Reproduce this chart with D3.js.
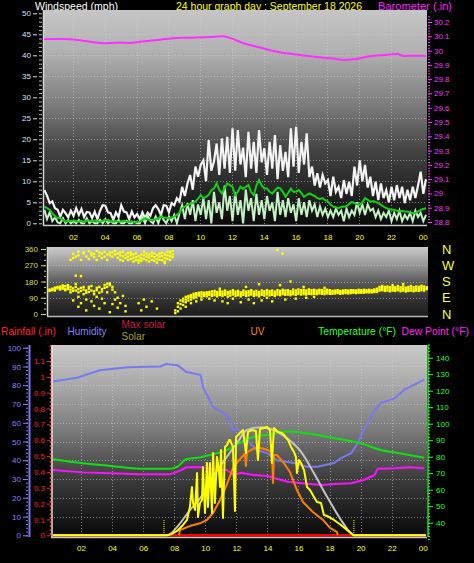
<!DOCTYPE html>
<html><head><meta charset="utf-8">
<script src="https://cdn.jsdelivr.net/npm/d3@7"></script>
<style>body{margin:0;background:#000;}svg{display:block;}text{font-family:"Liberation Sans",Arial,sans-serif;}</style>
</head><body>
<script>
// ---------------- DATA ----------------
const hourTicks = [2,4,6,8,10,12,14,16,18,20,22,24];
const windTicks = [0,5,10,15,20,25,30,35,40,45,50];
const baroTicks = [28.8,28.9,29,29.1,29.2,29.3,29.4,29.5,29.6,29.7,29.8,29.9,30,30.1,30.2];
const dirTicks = [0,90,180,270,360];
const dirLabels = ["N","E","S","W","N"];
const humTicks = [0,10,20,30,40,50,60,70,80,90,100];
const rainTicks = [0,0.1,0.2,0.3,0.4,0.5,0.6,0.7,0.8,0.9,1,1.1];
const tempTicks = [40,50,60,70,80,90,100,110,120,130,140];

// wind samples every 10 minutes starting 00:12
const windStart = 0.2, windStep = 1/6;
const windGust = [7.9,6.6,4.8,5.2,3.6,3.2, 1.6,3.2,2.4,1.4,3.0,1.8, 3.6,2.0,3.4,1.5,2.7,2.6, 1.2,2.8,1.0,3.0,4.3,4.2,
 2.6,2.4,0.8,2.6,1.5,4.3, 2.8,2.6,1.0,2.8,1.4,2.2, 1.0,2.6,1.2,2.5,1.8,3.6, 4.3,3.4,2.0,4.3,4.2,2.6,
 4.8,4.3,6.0,5.2,8.7,6.5, 9.5,11.5,8.0,13.5,11.1,13.9, 15.0,10.0,19.8,12.5,14.7,19.0, 11.5,20.2,13.0,20.6,12.0,22.6,
 12.5,22.2,14.0,18.0,11.0,21.8, 13.0,19.4,12.0,22.2,14.5,17.9, 11.5,19.4,13.0,21.0,10.5,18.6, 12.5,17.0,11.0,22.6,13.5,23.0,
 12.0,19.4,14.0,21.4,11.0,13.5, 9.0,11.9,8.5,11.5,9.5,10.3, 6.5,11.1,7.5,8.7,6.0,10.3, 7.0,9.9,6.5,13.5,9.0,15.0,
 10.0,13.9,8.5,11.1,6.5,9.9, 5.5,9.5,6.0,7.9,5.0,8.7, 5.5,9.1,6.0,8.7,4.8,8.0, 5.5,8.7,6.0,9.0,12.3,7.0,10.5];
const windAvg = [4.0,3.6,3.2,2.4,1.6,1.3, 1.2,0.8,0.4,0.6,0.5,0.7, 0.5,0.4,0.6,0.3,0.7,0.6, 0.4,0.7,0.5,0.3,0.6,0.8,
 0.8,0.5,0.4,0.6,0.3,0.5, 0.6,0.4,0.3,0.5,0.2,0.3, 0.4,0.8,1.2,0.9,0.8,0.8, 1.0,1.2,1.6,1.4,1.3,1.2,
 1.4,1.6,2.0,2.6,3.6,4.0, 4.4,4.6,4.8,5.2,5.8,6.7, 6.0,6.3,6.8,7.9,8.3,9.5, 8.0,7.1,8.3,9.5,9.1,8.7,
 6.7,7.5,8.7,8.2,8.7,9.1, 7.5,6.7,9.0,10.3,9.0,8.3, 8.3,7.5,7.1,7.8,8.5,8.3, 7.5,6.3,7.2,8.3,7.5,7.5,
 7.9,7.2,6.3,6.8,7.1,6.8, 6.5,6.0,5.8,6.0,5.5,5.2, 4.4,4.0,3.8,3.6,3.9,4.0, 4.0,4.6,5.1,4.8,4.5,4.4,
 5.0,6.0,5.6,5.1,5.3,5.1, 4.8,4.4,4.0,3.6,3.4,3.2, 3.2,3.0,2.8,2.9,2.8,2.8, 2.6,2.4,2.5,2.8,3.2,3.4,3.6];
const windSpeed = [3.2,1.0,2.6,0.5,1.5,0.2, 0.0,1.2,0.0,0.8,0.0,0.5, 0.0,0.8,0.0,0.0,1.2,0.0, 0.5,0.0,0.0,0.8,0.0,1.0,
 0.0,0.5,0.0,0.0,0.8,0.0, 0.0,0.6,0.0,0.0,0.4,0.0, 0.0,1.5,0.0,1.8,0.5,0.0, 1.6,0.0,2.0,0.8,0.0,1.6,
 0.5,2.0,0.0,2.4,4.3,1.0, 4.8,2.0,5.5,0.5,4.5,2.0, 6.0,1.0,5.5,0.0,7.5,2.5, 5.0,1.0,9.0,3.0,6.5,0.5,
 7.5,2.0,5.5,0.0,8.0,3.0, 6.0,0.5,7.0,2.0,5.5,1.0, 6.5,3.0,5.0,0.5,7.5,2.0, 5.5,1.5,6.0,2.5,4.5,0.5,
 6.0,2.0,5.0,1.5,5.5,3.0, 4.5,1.5,4.0,2.0,3.5,1.5, 3.0,1.5,3.5,2.0,3.0,0.5, 3.5,1.5,3.0,2.0,5.0,2.5,
 4.5,2.0,4.5,3.0,3.5,1.5, 3.0,1.0,2.5,1.5,3.0,0.5, 2.5,1.0,3.0,0.5,2.0,1.0, 2.5,0.5,3.0,1.5,2.5,0.5,2.0];

const baroTimes = [0.18,1.37,2.44,3.26,3.89,4.77,5.58,6.21,7.28,8.29,9.17,10.62,11.43,12.06,12.75,13.82,14.83,15.90,17.16,18.23,19.04,19.67,20.49,21.56,22.38,22.82,23.89,24.2];
const baroValues = [30.081,30.081,30.072,30.058,30.051,30.055,30.053,30.062,30.074,30.086,30.090,30.095,30.100,30.081,30.051,30.020,29.992,29.974,29.957,29.946,29.934,29.939,29.957,29.969,29.976,29.962,29.964,29.962];

// wind direction observations, every 10 minutes from 00:12 (several readings per slot)
const dirStart = 0.2, dirStep = 1/6;
const windDir = [
 [128,135],[132,140],[138,146,130],[142,150],[145,152,136],[150,158,140],
 [140,155,132],[148,138,160],[135,150,120,300],[142,128,333,310,75],[150,130,318,212,166],[138,120,345,325,95,40],
 [145,128,300,60,210],[150,135,335,340,110],[130,118,318,80,20],[140,122,348,305,150],[155,130,325,338,70],[125,110,315,332,45],
 [145,132,300,350,95],[150,118,322,340,30],[138,125,335,310,85],[160,145,345,318,60],[168,150,330,300,120],[170,160,340,325,10],
 [150,135,318,342,55],[120,350,330,80],[90,335,312,35],[60,340,325,300],[100,320,295,345],[45,330,310,15],
 [338,318,300],[325,305,340],[310,290,330],[335,315,298],[320,300,285,60],[330,310,295,20],
 [325,305,345,80],[318,298,335,40],[330,312,290],[340,322,300,70],[315,295,335],[325,305,285,30],
 [335,318,300],[320,298,340],[330,310,290,282],[345,325,305],[338,320,300,345],[330,315,350],
 [20,5],[40,15,60],[55,30,75],[70,50,85],[80,65,95,40],[90,75,100],
 [95,80,105,60],[100,88,112],[105,92,115,70],[102,110,118],[108,96,120,80],[112,100,118],
 [110,98,120],[115,105,122,85],[112,100,125],[118,104,128,75],[110,98,122],[115,105,126,140],
 [112,100,124,70],[118,106,130],[110,96,122,60],[114,102,125],[120,108,132,85],[112,100,124],
 [116,104,128],[110,98,120,65],[118,106,130],[112,100,124,150],[115,103,126,80],[120,108,132],
 [112,100,124,60],[116,104,128],[110,98,122,165],[118,106,130,75],[114,102,126],[120,108,132,90],
 [115,103,127],[118,106,130,70],[112,100,124],[120,108,132,355],[116,104,128,160],[122,110,134,335],
 [118,106,130,80],[120,108,132],[115,104,126,180],[122,110,135],[118,106,130,85],[124,112,136],
 [120,108,132],[122,110,134,150],[118,108,130,90],[124,112,136],[120,110,132],[122,112,134,95],
 [120,110,130],[124,114,134],[122,112,132],[120,110,130,145],[124,114,134],[122,112,132],
 [120,112,128],[122,114,130],[124,116,132],[120,112,128],[122,114,130],[124,116,132],
 [122,114,130],[124,116,132],[125,118,132],[124,116,130],[126,118,134],[124,118,132],
 [126,118,134],[125,120,132],[127,120,134],[126,120,132],[128,122,136],[130,122,140],
 [140,130,150],[145,132,155],[138,128,150],[142,130,152],[136,126,148],[140,130,150,160],
 [138,128,148],[142,132,155],[136,126,148],[140,130,152,165],[135,125,146],[138,128,150],
 [142,130,155],[136,126,148],[140,130,152],[138,128,150],[145,132,156],[140,130,152],[138,148]];

const humTimes = [0.19,1.74,3.2,5.0,7.1,7.5,8.2,8.8,9.7,9.85,10.5,11.4,11.8,12.1,12.7,13.3,14.0,14.6,15.7,16.5,17.2,18.3,18.7,19.4,19.8,20.2,20.9,21.3,22.2,22.8,23.4,24.1];
const humValues = [82,84,88,89.6,90,91.3,90.7,87,85.4,79,68.5,64,56,57,50.8,45.4,43.8,40,38.5,36.6,36.5,38.5,41,43.8,49,56,66.7,70.5,73,77.5,80,83];
const tempTimes = [0.19,2.1,3.9,5.8,7.7,8.2,8.8,9.7,10.5,11.4,12.2,13.1,14.0,15.3,16.5,18.3,20.0,21.3,22.6,24.1];
const tempValues = [78.4,76,74.4,72.7,72.7,73.9,78.6,79.6,81.5,84,88.3,92.1,93.2,95.2,94.2,91.2,88.1,84.1,82,79.4];
const dewTimes = [0.19,2.1,3.9,5.8,7.7,8.2,8.8,9.7,10.5,11.4,11.8,12.3,13.1,14.0,15.3,16.2,17.5,18.3,19.4,20.2,20.9,21.1,22.2,23.2,24.1];
const dewValues = [71.9,70.5,69.9,69.3,69.3,70.9,73.6,73.8,72.4,71.9,68.9,70.3,68.9,68.3,64.8,63.9,62.8,63.5,63.9,65.9,68.9,72.7,73,73.6,73];
const rainTimes = [0.19,24.2];
const rainValues = [0,0];
const maxSolarTimes = [0.19,7.53,8.37,9.01,9.66,10.50,11.40,12.04,12.68,13.59,14.42,15.26,16.16,17.0,17.84,18.74,19.38,19.57,24.2];
const maxSolarValues = [0,0,88,186,272,431,578,679,775,795,775,714,615,456,284,113,15,0,0];
const solarTimes = [0.19,7.53,7.86,8.18,8.50,8.82,9.01,9.14,9.21,9.34,9.47,9.53,9.66,9.79,9.85,9.98,10.11,10.17,10.30,10.43,10.50,10.62,10.75,10.88,10.95,11.01,11.14,11.27,11.40,11.53,11.59,11.78,11.91,11.98,12.23,12.43,12.62,12.75,13.01,13.26,13.39,13.52,13.78,13.97,14.17,14.29,14.42,14.68,14.94,15.07,15.33,15.52,15.71,15.84,15.90,16.03,16.16,16.36,16.55,16.74,17.0,17.19,17.45,17.64,17.84,18.09,18.29,18.74,19.12,19.45,19.57,24.2];
const solarValues = [0,0,10,32,68,113,208,355,238,186,458,135,238,260,502,164,532,208,532,164,605,238,576,480,355,628,127,650,664,701,701,650,179,723,753,775,605,760,775,767,554,782,789,797,775,532,789,760,753,738,701,650,613,576,458,554,532,480,355,333,282,245,238,149,142,127,113,76,39,10,0,0];
const uvTimes = [8.3,8.37,9.01,9.66,10.11,10.50,10.95,11.40,11.78,12.23,12.55,12.62,12.68,13.33,13.97,14.30,14.36,14.42,14.62,15.07,15.45,15.90,16.29,16.93,17.58,18.03,18.48,18.53];
const uvValues = [0,0.39,0.68,0.88,1.13,1.64,2.6,3.77,4.95,5.6,6.0,5.1,6.1,6.5,6.3,6.1,3.85,5.9,5.9,5.3,4.66,3.33,2.45,1.71,1.13,0.54,0.24,0];
const sunTimes = [7.34, 19.57];

// ---------------- CHART ----------------
const W = 474, H = 563;
const svg = d3.select("body").append("svg").attr("width", W).attr("height", H).style("background", "#000");
const defs = svg.append("defs");
function grad(id, stops) {
  const g = defs.append("linearGradient").attr("id", id).attr("x1", 0).attr("y1", 0).attr("x2", 0).attr("y2", 1);
  stops.forEach(([o, c]) => g.append("stop").attr("offset", o).attr("stop-color", c));
}
grad("gTop", [[0, "#c6c6c6"], [0.2, "#b0b0b0"], [0.45, "#7a7a7a"], [0.65, "#444"], [0.85, "#222"], [1, "#0a0a0a"]]);
grad("gMid", [[0, "#cacaca"], [0.25, "#9a9a9a"], [0.5, "#5c5c5c"], [0.75, "#333"], [1, "#1c1c1c"]]);
grad("gBot", [[0, "#cacaca"], [0.25, "#a2a2a2"], [0.45, "#7a7a7a"], [0.65, "#464646"], [0.82, "#262626"], [1, "#080808"]]);

const P = {
  top: {x0: 43, x1: 427, y0: 10, y1: 225},
  mid: {x0: 47, x1: 428, y0: 247, y1: 316},
  bot: {x0: 51, x1: 427, y0: 345, y1: 537}
};
Object.entries(P).forEach(([k, p]) => {
  defs.append("clipPath").attr("id", "clip" + k).append("rect")
    .attr("x", p.x0).attr("y", p.y0).attr("width", p.x1 - p.x0).attr("height", p.y1 - p.y0);
});

// scales
const xTop = d3.scaleLinear().domain([0, 24]).range([41.2, 422.8]);
const yWind = d3.scaleLinear().domain([0, 50]).range([223.3, 13.3]);
const yBaro = d3.scaleLinear().domain([28.8, 30.2]).range([222, 22]);
const xMid = d3.scaleLinear().domain([0.1, 24.25]).range([48, 427.5]);
const yDir = d3.scaleLinear().domain([0, 360]).range([314, 249]);
const xBot = d3.scaleLinear().domain([0, 24]).range([50, 422.7]);
const yHum = d3.scaleLinear().domain([0, 100]).range([535.3, 347.7]);
const yRain = d3.scaleLinear().domain([0, 1.1]).range([535.3, 361]);
const yTemp = d3.scaleLinear().domain([40, 140]).range([522.7, 357.7]);
const ySolar = d3.scaleLinear().domain([0, 1400]).range([535.3, 345]);
const yUV = d3.scaleLinear().domain([0, 14]).range([535.3, 345]);

function panelBg(p, gid) {
  svg.append("rect").attr("x", p.x0).attr("y", p.y0).attr("width", p.x1 - p.x0).attr("height", p.y1 - p.y0)
    .attr("fill", `url(#${gid})`);
}
function text(x, y, s, color, size, anchor, len, baseline) {
  const t = svg.append("text").attr("x", x).attr("y", y).text(s).attr("fill", color)
    .attr("font-size", size).attr("text-anchor", anchor || "start");
  if (len) t.attr("textLength", len).attr("lengthAdjust", "spacingAndGlyphs");
  if (baseline) t.attr("dominant-baseline", baseline);
  return t;
}
const gridStyle = s => s.attr("stroke", "#d0d0d0").attr("stroke-opacity", 0.55).attr("stroke-width", 1).attr("stroke-dasharray", "1,2");
function hGrid(p, scale, vals) {
  vals.forEach(v => gridStyle(svg.append("line").attr("x1", p.x0).attr("x2", p.x1).attr("y1", Math.round(scale(v)) + 0.5).attr("y2", Math.round(scale(v)) + 0.5)));
}
function vGrid(p, scale, vals) {
  vals.forEach(v => gridStyle(svg.append("line").attr("y1", p.y0).attr("y2", p.y1).attr("x1", Math.round(scale(v)) + 0.5).attr("x2", Math.round(scale(v)) + 0.5)));
}
function styleAxis(g, color, fs) {
  g.select(".domain").remove();
  g.selectAll("line").attr("stroke", color);
  g.selectAll("text").attr("fill", color).attr("font-size", fs || 8).attr("font-family", "Liberation Sans, Arial, sans-serif");
}
const numFmt = d => String(+d.toFixed(1));
const hourFmt = d => String(d % 24).padStart(2, "0");

// ---------- titles ----------
text(35, 9.5, "Windspeed (mph)", "#ffffff", 10.6, "start", 83);
text(176, 9.5, "24 hour graph day : September 18 2026", "#ffff00", 10.5, "start", 186);
text(378, 9.5, "Barometer (.in)", "#ff20ff", 10.8, "start", 74);

// ---------- TOP PANEL ----------
const pt = P.top;
panelBg(pt, "gTop");
hGrid(pt, yWind, windTicks.slice(1, -1));
vGrid(pt, xTop, hourTicks.slice(0, -1));
const gTop = svg.append("g").attr("clip-path", "url(#cliptop)");
const windT = i => windStart + i * windStep;
const lineWind = d3.line().x((d, i) => xTop(windT(i))).y(d => yWind(d));
gTop.append("path").datum(windGust).attr("d", lineWind).attr("fill", "none").attr("stroke", "#f4f4f4").attr("stroke-width", 2.2);
gTop.append("path").datum(windSpeed).attr("d", lineWind).attr("fill", "none").attr("stroke", "#c4f2c4").attr("stroke-width", 2);
gTop.append("path").datum(windAvg).attr("d", lineWind).attr("fill", "none").attr("stroke", "#10d010").attr("stroke-width", 2);
gTop.append("path").datum(baroTimes.map((t, i) => [t, baroValues[i]]))
  .attr("d", d3.line().x(d => xTop(d[0])).y(d => yBaro(d[1])).curve(d3.curveMonotoneX))
  .attr("fill", "none").attr("stroke", "#ff30ff").attr("stroke-width", 2);
// frame
svg.append("line").attr("x1", 43.5).attr("x2", 43.5).attr("y1", pt.y0).attr("y2", pt.y1 + 1).attr("stroke", "#d8d8d8").attr("stroke-width", 1.5);
svg.append("line").attr("x1", pt.x0).attr("x2", pt.x1).attr("y1", 225.5).attr("y2", 225.5).attr("stroke", "#c8c8c8").attr("stroke-width", 1.5);
// axes
styleAxis(svg.append("g").attr("transform", "translate(37,0)").call(d3.axisLeft(yWind).tickValues(windTicks).tickSize(4).tickPadding(2)), "#d0e0ff");
styleAxis(svg.append("g").attr("transform", "translate(42,0)").call(d3.axisLeft(yWind).tickValues(d3.range(0, 51, 1)).tickSize(3).tickFormat("")), "#b8b8b8");
styleAxis(svg.append("g").attr("transform", "translate(428,0)").call(d3.axisRight(yBaro).tickValues(baroTicks).tickSize(4).tickPadding(2).tickFormat(numFmt)), "#ff30ff");
styleAxis(svg.append("g").attr("transform", "translate(428,0)").call(d3.axisRight(yBaro).tickValues(d3.range(0, 73).map(i => 28.8 + i * 0.02)).tickSize(2).tickFormat("")), "#ff30ff");
styleAxis(svg.append("g").attr("transform", "translate(0,226)").call(d3.axisBottom(xTop).tickValues(hourTicks).tickSize(0).tickPadding(8).tickFormat(hourFmt)), "#ffff00");

// ---------- MIDDLE PANEL ----------
const pm = P.mid;
panelBg(pm, "gMid");
hGrid(pm, yDir, [90, 180, 270]);
const gMid = svg.append("g").attr("clip-path", "url(#clipmid)");
const dirPts = [];
windDir.forEach((degs, i) => degs.forEach(d => dirPts.push([dirStart + i * dirStep, d])));
gMid.selectAll("rect.dir").data(dirPts).enter().append("rect").attr("class", "dir")
  .attr("x", d => xMid(d[0]) - 1.2).attr("y", d => yDir(d[1]) - 1.2).attr("width", 2.4).attr("height", 2.4).attr("fill", "#ffff00");
svg.append("line").attr("x1", 47.5).attr("x2", 47.5).attr("y1", pm.y0).attr("y2", pm.y1).attr("stroke", "#d8d8d8").attr("stroke-width", 1.5);
svg.append("line").attr("x1", pm.x0).attr("x2", pm.x1).attr("y1", 316.5).attr("y2", 316.5).attr("stroke", "#b8b8b8").attr("stroke-width", 1.5);
styleAxis(svg.append("g").attr("transform", "translate(45,0)").call(d3.axisLeft(yDir).tickValues(dirTicks).tickSize(4).tickPadding(3)), "#dcdc3c");
styleAxis(svg.append("g").attr("transform", "translate(46,0)").call(d3.axisLeft(yDir).tickValues(d3.range(0, 361, 30)).tickSize(2).tickFormat("")), "#dcdc3c");
dirTicks.forEach((v, i) => text(442, yDir(v), dirLabels[i], "#ffff30", 13, "start", null, "central"));

// ---------- legend ----------
text(1, 335, "Rainfall (.in)", "#ff2020", 10.3, "start", 55);
text(67.5, 335, "Humidity", "#8080ff", 10.5, "start", 39);
text(121.5, 327.5, "Max solar", "#c8184a", 10.5, "start", 44);
text(121.5, 340, "Solar", "#a4a410", 10.5, "start", 23.5);
text(250.5, 335, "UV", "#ff8010", 10.5, "start", 14);
text(318, 335, "Temperature (°F)", "#20ff20", 10.2, "start", 78);
text(401.5, 335, "Dew Point (°F)", "#ff20ff", 10.2, "start", 67.5);

// ---------- BOTTOM PANEL ----------
const pb = P.bot;
panelBg(pb, "gBot");
hGrid(pb, yHum, humTicks.slice(1, -1));
vGrid(pb, xBot, hourTicks.slice(0, -1));
const gBot = svg.append("g").attr("clip-path", "url(#clipbot)");
function series(times, vals, yS, color, w, curve) {
  gBot.append("path").datum(times.map((t, i) => [t, vals[i]]))
    .attr("d", d3.line().x(d => xBot(d[0])).y(d => yS(d[1])).curve(curve || d3.curveLinear))
    .attr("fill", "none").attr("stroke", color).attr("stroke-width", w).attr("stroke-linejoin", "round");
}
series(rainTimes, rainValues, yRain, "#ff0000", 2.5);
series(humTimes, humValues, yHum, "#7878f0", 2);
series(tempTimes, tempValues, yTemp, "#10e010", 2, d3.curveMonotoneX);
series(dewTimes, dewValues, yTemp, "#ff10ff", 2);
series(maxSolarTimes, maxSolarValues, ySolar, "#c4c4c4", 2, d3.curveMonotoneX);
series(uvTimes, uvValues, yUV, "#ff8000", 2);
series(solarTimes, solarValues, ySolar, "#ffff00", 2);
sunTimes.forEach(t => gBot.append("line").attr("x1", xBot(t)).attr("x2", xBot(t)).attr("y1", 520).attr("y2", 536)
  .attr("stroke", "#ffff00").attr("stroke-width", 1).attr("stroke-dasharray", "1,1"));
svg.append("line").attr("x1", 52).attr("x2", 52).attr("y1", pb.y0).attr("y2", pb.y1).attr("stroke", "#e0e0e0").attr("stroke-width", 1.5);
svg.append("line").attr("x1", pb.x0).attr("x2", pb.x1).attr("y1", 537.5).attr("y2", 537.5).attr("stroke", "#c8c8c8").attr("stroke-width", 1.5);
// humidity axis
svg.append("line").attr("x1", 29.5).attr("x2", 29.5).attr("y1", pb.y0).attr("y2", pb.y1).attr("stroke", "#7878f0").attr("stroke-width", 2);
styleAxis(svg.append("g").attr("transform", "translate(28,0)").call(d3.axisLeft(yHum).tickValues(humTicks).tickSize(5).tickPadding(2)), "#8080ff");
styleAxis(svg.append("g").attr("transform", "translate(28,0)").call(d3.axisLeft(yHum).tickValues(d3.range(0, 101, 2)).tickSize(2).tickFormat("")), "#8080ff");
// rain axis
svg.append("line").attr("x1", 50.5).attr("x2", 50.5).attr("y1", pb.y0).attr("y2", pb.y1).attr("stroke", "#ff2020").attr("stroke-width", 1.5).attr("stroke-dasharray", "2,2");
styleAxis(svg.append("g").attr("transform", "translate(50,0)").call(d3.axisLeft(yRain).tickValues(rainTicks).tickSize(3).tickPadding(2).tickFormat(numFmt)), "#ff2020");
// temperature axis
svg.append("line").attr("x1", 428).attr("x2", 428).attr("y1", pb.y0).attr("y2", pb.y1).attr("stroke", "#20e020").attr("stroke-width", 1.5);
styleAxis(svg.append("g").attr("transform", "translate(428,0)").call(d3.axisRight(yTemp).tickValues(tempTicks).tickSize(5).tickPadding(3)), "#20ff20");
styleAxis(svg.append("g").attr("transform", "translate(428,0)").call(d3.axisRight(yTemp).tickValues(d3.range(30, 149, 2)).tickSize(2).tickFormat("")), "#20ff20");
styleAxis(svg.append("g").attr("transform", "translate(0,538)").call(d3.axisBottom(xBot).tickValues(hourTicks).tickSize(0).tickPadding(7).tickFormat(hourFmt)), "#ffff00");
</script>
</body></html>
